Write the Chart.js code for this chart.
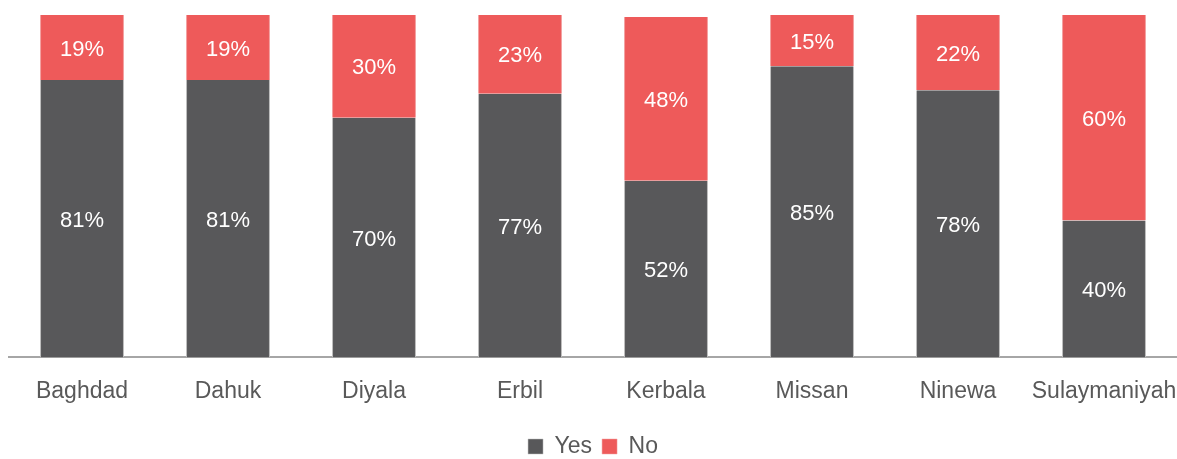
<!DOCTYPE html>
<html>
<head>
<meta charset="utf-8">
<script src="https://cdn.jsdelivr.net/npm/chart.js@4/dist/chart.umd.min.js"></script>
<style>
  html, body { margin: 0; padding: 0; background: #fff; overflow: hidden; }
  #wrap { width: 1177px; height: 468px; position: relative; }
</style>
</head>
<body>
<div id="wrap"><canvas id="chart"></canvas></div>
<script>
'use strict';

// Data
const regions = ['Baghdad', 'Dahuk', 'Diyala', 'Erbil', 'Kerbala', 'Missan', 'Ninewa', 'Sulaymaniyah'];
const yesValues = [81, 81, 70, 77, 51.6, 85, 78, 40];
const noValues = [19, 19, 30, 23, 47.8, 15, 22, 60];

const FONT = "'Liberation Sans Narrow', 'Arial Narrow', 'Liberation Sans', sans-serif";

// Draws the percentage inside each bar segment
const barLabels = {
  id: 'barLabels',
  afterDatasetsDraw(chart) {
    const ctx = chart.ctx;
    ctx.save();
    ctx.fillStyle = '#ffffff';
    ctx.font = '22px ' + FONT;
    ctx.textAlign = 'center';
    ctx.textBaseline = 'middle';
    chart.data.datasets.forEach((ds, i) => {
      chart.getDatasetMeta(i).data.forEach((bar, j) => {
        const mid = (bar.y + bar.base) / 2 + 2;
        ctx.fillText(Math.round(ds.data[j]) + '%', bar.x, mid);
      });
    });
    ctx.restore();
  }
};

new Chart(document.getElementById('chart').getContext('2d'), {
  type: 'bar',
  data: {
    labels: regions,
    datasets: [
      { label: 'Yes', data: yesValues, backgroundColor: '#58585a', borderColor: '#bdbdbd', borderWidth: { left: 1, right: 1, top: 0, bottom: 0 }, categoryPercentage: 1, barPercentage: 0.575 },
      { label: 'No', data: noValues, backgroundColor: '#ee5a5a', borderColor: '#f3a0a0', borderWidth: { left: 1, right: 1, top: 0, bottom: 0 }, categoryPercentage: 1, barPercentage: 0.575 }
    ]
  },
  options: {
    responsive: true,
    maintainAspectRatio: false,
    animation: false,
    layout: { autoPadding: false, padding: { left: 9, right: 0, top: 15, bottom: 0 } },
    scales: {
      x: {
        stacked: true,
        grid: { display: false, drawTicks: false },
        border: { color: '#a6a6a6', width: 2 },
        ticks: { color: '#595959', font: { family: FONT, size: 23 }, padding: 20, maxRotation: 0, minRotation: 0, autoSkip: false },
        afterFit(scale) {
          scale.paddingLeft = 0;
          scale.paddingRight = 0;
        }
      },
      y: {
        stacked: true,
        display: false,
        min: 0,
        max: 100
      }
    },
    plugins: {
      legend: {
        position: 'bottom',
        labels: {
          color: '#595959',
          font: { family: FONT, size: 23 },
          boxWidth: 15,
          boxHeight: 15,
          padding: 10
        }
      },
      tooltip: { enabled: false }
    }
  },
  plugins: [barLabels]
});
</script>
</body>
</html>
